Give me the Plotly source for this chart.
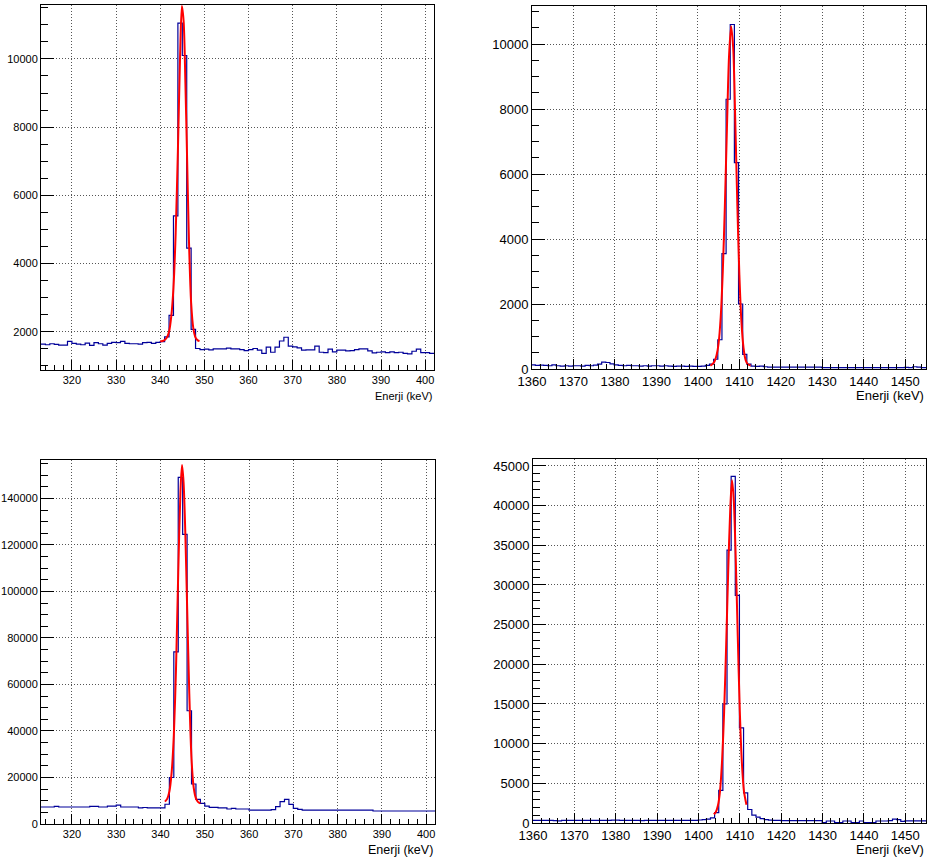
import plotly.graph_objects as go

# ---------------- data ----------------
# Panel 1 (top-left): 1 keV bins starting at 313 keV
P1_BIN_START = 313.0
P1_COUNTS = [
    1640, 1620, 1650, 1630, 1610, 1610, 1720, 1660, 1640, 1620,
    1670, 1600, 1680, 1650, 1610, 1660, 1690, 1680, 1720, 1660,
    1650, 1650, 1640, 1680, 1690, 1660, 1690, 1710, 1850, 2480,
    5400, 11050, 10100, 4450, 2070, 1510, 1480, 1490, 1470, 1500,
    1500, 1500, 1520, 1500, 1500, 1480, 1450, 1480, 1510, 1460,
    1370, 1550, 1400, 1550, 1730, 1840, 1580, 1560, 1530, 1460,
    1470, 1470, 1580, 1400, 1390, 1490, 1410, 1460, 1460, 1440,
    1450, 1480, 1500, 1500, 1440, 1380, 1400, 1410, 1390, 1410,
    1390, 1400, 1370, 1350, 1430, 1490, 1390, 1390, 1370,
]
P1_FIT_X = [340.0, 340.5, 341.0, 341.5, 342.0, 342.5, 343.0, 343.5, 344.0, 344.5,
            344.9, 345.3, 345.7, 346.0, 346.5, 347.0, 347.5, 348.0, 348.5, 348.9]
P1_FIT_Y = [1720, 1730, 1760, 1830, 2000, 2450, 3300, 4900, 7300, 10100,
            11550, 11100, 9300, 7600, 4700, 2850, 2100, 1830, 1750, 1730]

# Panel 2 (top-right)
P2_BIN_START = 1359.8
P2_COUNTS = [
    130, 110, 120, 110, 100, 130, 100, 90, 100, 90,
    100, 100, 90, 110, 100, 120, 150, 210, 200, 160,
    130, 110, 100, 110, 100, 100, 90, 100, 90, 100,
    100, 90, 100, 90, 80, 90, 90, 80, 90, 80,
    80, 90, 110, 150, 300, 900, 3550, 8300, 10600, 6350,
    2000, 450, 150, 90, 80, 90, 70, 60, 60, 60,
    60, 60, 60, 60, 60, 60, 60, 60, 60, 60,
    45, 45, 45, 45, 45, 45, 45, 45, 45, 45,
    45, 45, 45, 45, 45, 45, 45, 45, 45, 45,
    50, 45, 70, 60, 45, 45,
]
P2_FIT_X = [1403.0, 1403.5, 1404.0, 1404.5, 1405.0, 1405.5, 1406.0, 1406.5, 1407.0, 1407.5,
            1408.0, 1408.5, 1409.0, 1409.5, 1410.0, 1410.5, 1411.0, 1411.5, 1412.0, 1412.7]
P2_FIT_Y = [100, 150, 230, 420, 800, 1600, 3000, 5000, 7400, 9600,
            10550, 9900, 7700, 5100, 2900, 1450, 650, 280, 150, 110]

# Panel 3 (bottom-left)
P3_BIN_START = 313.0
P3_COUNTS = [
    7300, 7300, 7300, 7600, 7300, 7300, 7300, 7300, 7300, 7300,
    7300, 7600, 7600, 7300, 7300, 7700, 7700, 8100, 7300, 7300,
    7300, 7300, 6900, 7100, 6900, 6900, 6900, 6900, 8500, 20000,
    74000, 149000, 124500, 48700, 17200, 10600, 8900, 7700, 7150, 7150,
    6900, 6900, 6450, 6700, 6450, 6450, 6450, 6000, 6000, 6000,
    6000, 6000, 6150, 7450, 9600, 10600, 8450, 6700, 6300, 6000,
    6000, 6000, 6000, 6000, 6000, 6000, 6000, 6000, 6000, 6000,
    6000, 6000, 6000, 6000, 6000, 5600, 5600, 5600, 5600, 5600,
    5600, 5600, 5600, 5600, 5600, 5600, 5600, 5600, 5600,
]
P3_FIT_X = [341.0, 341.5, 342.0, 342.5, 343.0, 343.5, 344.0, 344.5, 344.85, 345.2,
            345.6, 346.0, 346.5, 347.0, 347.5, 348.0, 348.5, 349.0]
P3_FIT_Y = [9600, 10800, 14000, 22000, 38000, 67000, 108000, 143000, 154300, 147000,
            125000, 94000, 56000, 28000, 15500, 11000, 9400, 8900]

# Panel 4 (bottom-right)
P4_BIN_START = 1359.9
P4_COUNTS = [
    330, 330, 330, 330, 320, 290, 280, 320, 330, 330,
    330, 330, 330, 330, 330, 330, 320, 330, 330, 370,
    350, 320, 320, 320, 320, 320, 290, 320, 320, 320,
    320, 320, 320, 320, 320, 320, 320, 320, 320, 320,
    380, 420, 500, 650, 1300, 4100, 15000, 34400, 43700, 28700,
    12000, 3800, 1700, 1000, 750, 550, 420, 350, 320, 320,
    300, 300, 300, 300, 300, 300, 300, 300, 300, 300,
    60, 250, 250, 60, 60, 250, 250, 60, 60, 250,
    60, 60, 60, 250, 250, 250, 300, 480, 430, 200,
    280, 280, 280, 280, 280, 280,
]
P4_FIT_X = [1403.7, 1404.2, 1404.7, 1405.2, 1405.7, 1406.2, 1406.7, 1407.2, 1407.7, 1408.1,
            1408.5, 1409.0, 1409.5, 1410.0, 1410.5, 1411.0, 1411.6]
P4_FIT_Y = [1100, 1400, 2200, 4000, 7800, 14000, 22500, 32000, 39800, 43200,
            41000, 33500, 23500, 14000, 7500, 4000, 2300]

BIN_WIDTH = 1.0
X_TITLE = "Enerji (keV)"

# ---------------- styling / layout ----------------
HIST_COLOR = "#000099"
FIT_COLOR = "#ff0000"
GRID_COLOR = "#555555"
W, H = 927, 861
FONT = "Liberation Sans, Arial, Helvetica"

panels = [
    dict(start=P1_BIN_START, counts=P1_COUNTS, fx=P1_FIT_X, fy=P1_FIT_Y,
         xr=[313, 402], yr=[880, 11580], xdt=10, xmin=2, ydt=2000, ymin=500,
         px=(41, 434, 5, 370), fs=11, ts=11),
    dict(start=P2_BIN_START, counts=P2_COUNTS, fx=P2_FIT_X, fy=P2_FIT_Y,
         xr=[1360, 1455], yr=[0, 11170], xdt=10, xmin=2, ydt=2000, ymin=500,
         px=(532, 926, 6, 369), fs=13, ts=13),
    dict(start=P3_BIN_START, counts=P3_COUNTS, fx=P3_FIT_X, fy=P3_FIT_Y,
         xr=[313, 402], yr=[0, 156500], xdt=10, xmin=2, ydt=20000, ymin=5000,
         px=(41, 435, 460, 824), fs=11, ts=12.5),
    dict(start=P4_BIN_START, counts=P4_COUNTS, fx=P4_FIT_X, fy=P4_FIT_Y,
         xr=[1360, 1455], yr=[0, 45880], xdt=10, xmin=2, ydt=5000, ymin=1000,
         px=(533, 926, 459, 823), fs=13, ts=13),
]

fig = go.Figure()
layout = dict(
    width=W, height=H, margin=dict(l=0, r=0, t=0, b=0, autoexpand=False),
    paper_bgcolor="white", plot_bgcolor="white", showlegend=False,
)
annotations = []

for i, p in enumerate(panels, start=1):
    sfx = "" if i == 1 else str(i)
    xa, ya = "x" + sfx, "y" + sfx
    n = len(p["counts"])
    edges = [p["start"] + k * BIN_WIDTH for k in range(n + 1)]
    ys = list(p["counts"]) + [p["counts"][-1]]
    fig.add_trace(go.Scatter(x=edges, y=ys, mode="lines", line=dict(color=HIST_COLOR, width=1.2, shape="hv"),
                             xaxis=xa, yaxis=ya, hoverinfo="skip"))
    fig.add_trace(go.Scatter(x=p["fx"], y=p["fy"], mode="lines",
                             line=dict(color=FIT_COLOR, width=2, shape="spline", smoothing=0.8),
                             xaxis=xa, yaxis=ya, hoverinfo="skip"))
    x0, x1, y0, y1 = p["px"]
    xdom = [x0 / W, x1 / W]
    ydom = [1 - y1 / H, 1 - y0 / H]
    tf = dict(family=FONT, size=p["fs"], color="black")
    layout["xaxis" + sfx] = dict(
        domain=xdom, anchor=ya, range=p["xr"], dtick=p["xdt"], tick0=0, automargin=False,
        ticks="inside", ticklen=10, tickcolor="black", tickwidth=1,
        minor=dict(dtick=p["xmin"], tick0=0, ticks="inside", ticklen=5, tickcolor="black", showgrid=False),
        showline=True, linecolor="black", linewidth=1, mirror=True,
        showgrid=True, gridcolor=GRID_COLOR, griddash="1px,2px", gridwidth=1,
        zeroline=False, tickfont=tf, tickformat="d",
    )
    layout["yaxis" + sfx] = dict(
        domain=ydom, anchor=xa, range=p["yr"], dtick=p["ydt"], tick0=0, automargin=False,
        ticks="inside", ticklen=13, tickcolor="black", tickwidth=1,
        minor=dict(dtick=p["ymin"], tick0=0, ticks="inside", ticklen=7, tickcolor="black", showgrid=False),
        showline=True, linecolor="black", linewidth=1, mirror=True,
        showgrid=True, gridcolor=GRID_COLOR, griddash="1px,2px", gridwidth=1,
        zeroline=False, tickfont=tf, tickformat="d",
    )
    annotations.append(dict(
        text=X_TITLE, xref="paper", yref="paper", x=x1 / W, y=1 - (y1 + 26) / H,
        xanchor="right", yanchor="middle", showarrow=False,
        font=dict(family=FONT, size=p["ts"], color="black"),
    ))

layout["annotations"] = annotations
fig.update_layout(**layout)
fig.write_html(
    "out.html",
    config={"displayModeBar": False},
    post_script="document.body.style.margin='0';document.body.style.overflow='hidden';",
)
